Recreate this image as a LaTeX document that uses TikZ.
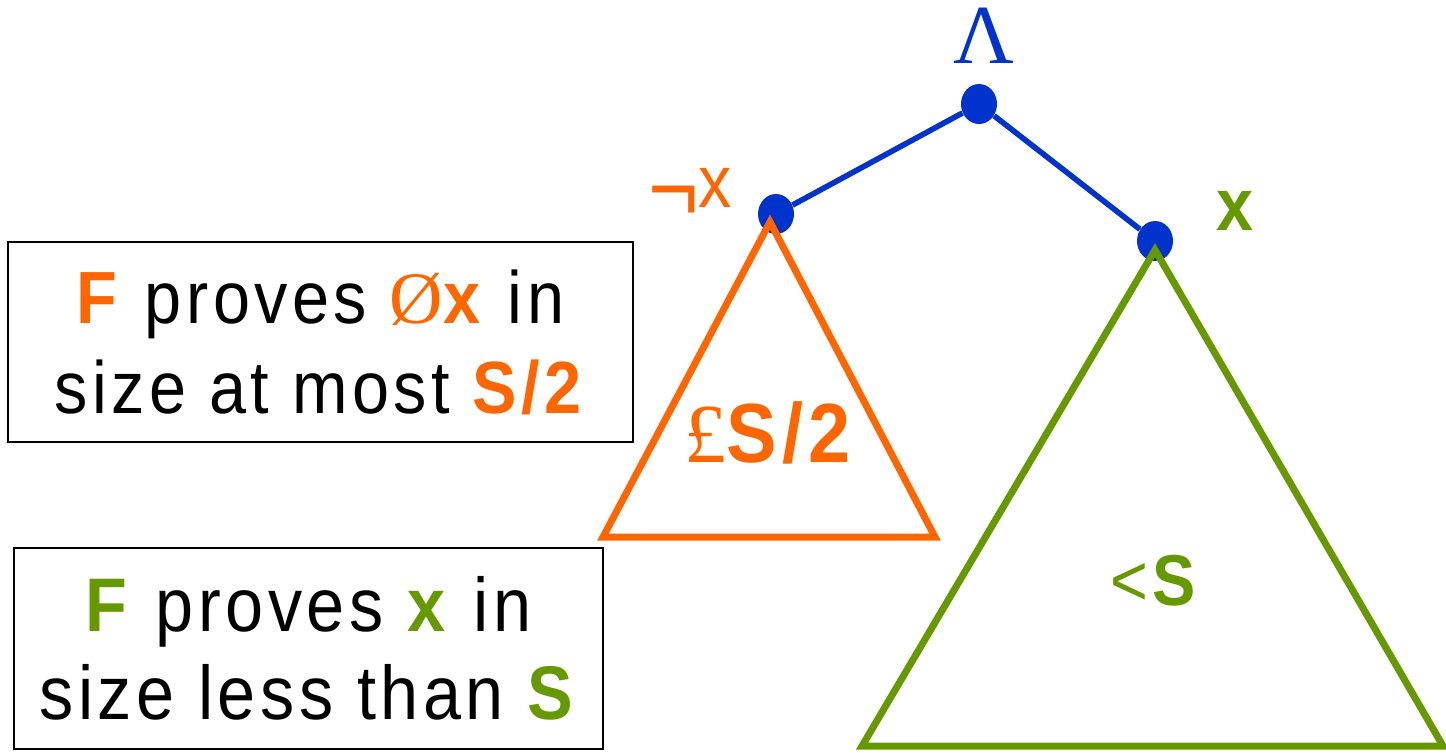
\documentclass[tikz,border=0pt]{standalone}
\usepackage{fontspec}
\setmainfont[FakeStretch=0.9,LetterSpace=6]{Liberation Sans}
\newfontfamily\serifface{Liberation Serif}
\usetikzlibrary{positioning,shapes.geometric}
\definecolor{negorange}{HTML}{FF6600}
\definecolor{posgreen}{HTML}{669900}
\definecolor{treeblue}{HTML}{0033CC}

\begin{document}
\begin{tikzpicture}[x=0.5pt,y=0.5pt,
  vertex/.style={ellipse,fill=treeblue,inner sep=0pt,minimum width=18pt,minimum height=20pt},
  edge/.style={treeblue,line width=2.8pt},
  subtree/.style={line width=3.5pt},
  claim/.style={draw,line width=1pt,inner sep=0pt,align=center},
]
\useasboundingbox (0,0) rectangle (1446,-752);
% tree
\node[vertex] (root) at (979,-104) {};
\node[vertex] (neg) at (776,-214) {};
\node[vertex] (pos) at (1155,-241) {};
\draw[edge] (root) -- (neg);
\draw[edge] (root) -- (pos);
% subtrees
\coordinate (negtop) at (770,-222);
\coordinate (negleft) at (603,-537);
\coordinate (negright) at (935,-537);
\coordinate (postop) at (1155,-250);
\coordinate (posleft) at (862,-746);
\coordinate (posright) at (1443,-746);
\draw[subtree,negorange] (negtop) -- (negleft) -- (negright) -- cycle;
\draw[subtree,posgreen] (postop) -- (posleft) -- (posright) -- cycle;
% labels
\node[treeblue,anchor=base,font=\serifface\fontsize{42}{42}\selectfont] (andlabel) at (984,-63) {Λ};
\node[negorange,anchor=base east,font=\fontsize{37}{37}\selectfont] (neglabel) at (739,-207) {\raisebox{-7pt}{\scalebox{1.3}{¬}}x};
\node[posgreen,anchor=base,font=\bfseries\fontsize{37}{37}\selectfont] (poslabel) at (1235,-230) {x};
\node[negorange,anchor=base,font=\fontsize{42}{42}\selectfont] (negsize) at (770,-462) {{\serifface £}\textbf{S/2}};
\node[posgreen,anchor=base,font=\fontsize{36}{36}\selectfont] (possize) at (1155,-605) {<\textbf{S}};
% claims
\node[claim,minimum width=312.5pt,minimum height=100pt,font=\fontsize{37}{45}\selectfont] (negclaim) at (320.5,-342)
  {\textcolor{negorange}{\textbf{F}} proves \textcolor{negorange}{{\serifface Ø}\textbf{x}} in\\
   size at most \textcolor{negorange}{\textbf{S/2}}};
\node[claim,minimum width=294.5pt,minimum height=100.5pt,font=\fontsize{38}{44}\selectfont] (posclaim) at (308.5,-648.5)
  {\textcolor{posgreen}{\textbf{F}} proves \textcolor{posgreen}{\textbf{x}} in\\
   size less than \textcolor{posgreen}{\textbf{S}}};
\end{tikzpicture}
\end{document}
